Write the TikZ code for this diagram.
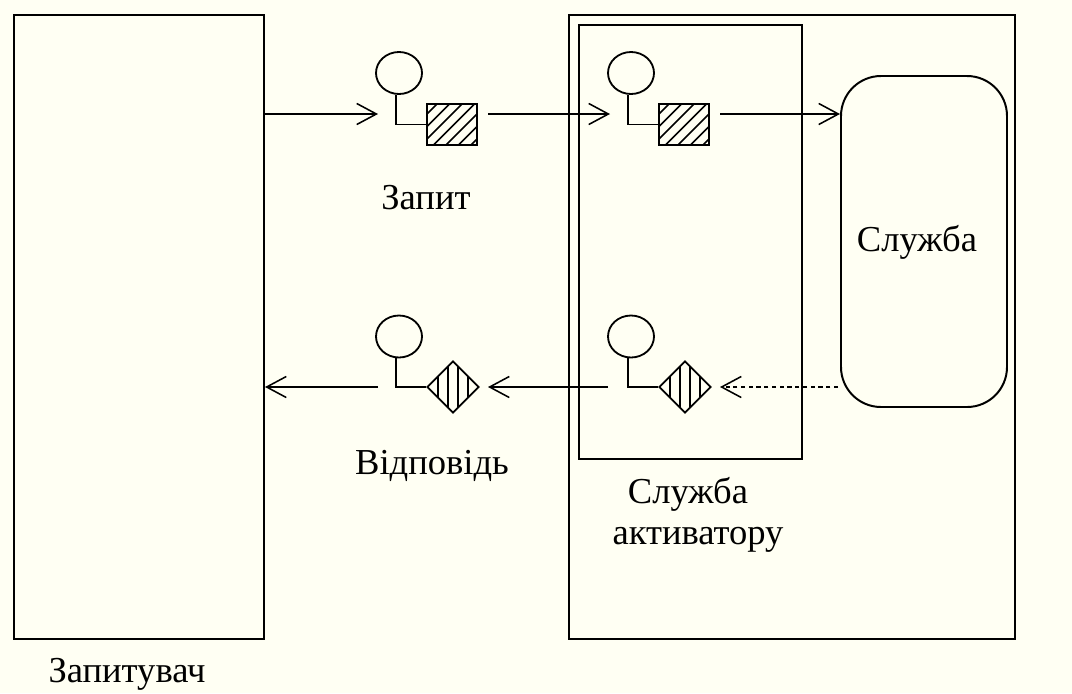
\documentclass[tikz,border=0pt]{standalone}
\usepackage{fontspec}
\setmainfont{Liberation Serif}
\usepackage{xcolor}
\usetikzlibrary{shapes.geometric, arrows.meta}
\definecolor{paper}{HTML}{FFFFF3}
\def\px{0.025cm}
\tikzstyle{arrow} = [line width=1.2pt,-{Straight Barb[length=14pt,width=15pt,line width=1.1pt]}]
\tikzstyle{frame} = [draw,line width=1.4pt,inner sep=0pt,anchor=north west]
\tikzstyle{head} = [draw,line width=1.3pt,ellipse,inner sep=0pt,minimum width=46*\px,minimum height=42*\px]
\tikzstyle{hatchbox} = [draw,line width=1.4pt,inner sep=0pt,minimum width=50*\px,minimum height=41*\px,
    path picture={\foreach \dx in {-48,-35.5,...,40} \draw[line width=1.2pt] (path picture bounding box.center) ++(\dx-30,30) -- ++(60,-60);}]
\tikzstyle{stripebox} = [draw,line width=1.3pt,diamond,inner sep=0pt,minimum width=52*\px,minimum height=52*\px,
    path picture={\foreach \dx in {-15,-5,5,15} \draw[line width=1.1pt] (path picture bounding box.center) ++(\dx,-30) -- ++(0,60);}]
\tikzstyle{caption} = [inner sep=0pt,font=\fontsize{26}{30}\selectfont]
\begin{document}
\begin{tikzpicture}[x=0.025cm,y=-0.025cm]
    \fill[paper] (0,0) rectangle (1072,693);
    \useasboundingbox (0,0) rectangle (1072,693);
    % frames
    \node[frame,minimum width=250*\px,minimum height=624*\px] (requester) at (12.8,13.7) {};
    \node[frame,minimum width=446*\px,minimum height=624*\px] (system) at (567.8,13.7) {};
    \node[frame,minimum width=223*\px,minimum height=434*\px] (activator) at (577.8,23.7) {};
    \node[draw,line width=1.4pt,rounded corners=40*\px,inner sep=0pt,minimum width=166*\px,minimum height=331*\px] (service) at (924,241.5) {};
    % request side
    \node[head] (reqhead) at (399,73) {};
    \node[hatchbox] (reqbox) at (452,124.5) {};
    \node[head] (acthead) at (631,73) {};
    \node[hatchbox] (actbox) at (684,124.5) {};
    \draw[line width=1.3pt] (reqhead.263) |- (reqbox.west);
    \draw[line width=1.3pt] (acthead.263) |- (actbox.west);
    % reply side
    \node[head] (rephead) at (399,336.5) {};
    \node[stripebox] (repbox) at (453,387) {};
    \node[head] (anshead) at (631,336.5) {};
    \node[stripebox] (ansbox) at (685,387) {};
    \draw[line width=1.3pt] (rephead.263) |- (repbox.west);
    \draw[line width=1.3pt] (anshead.263) |- (ansbox.west);
    % free ends
    \coordinate (a) at (265,114);
    \coordinate (b) at (378,114);
    \coordinate (c) at (488,114);
    \coordinate (d) at (610,114);
    \coordinate (e) at (720,114);
    \coordinate (f) at (608,387);
    \coordinate (g) at (488,387);
    \coordinate (h) at (378,387);
    \coordinate (i) at (265,387);
    \coordinate (j) at (838,387);
    \coordinate (k) at (720,387);
    \draw[arrow] (a)--(b);
    \draw[arrow] (c)--(d);
    \draw[arrow] (e)--(e-|service.west);
    \draw[arrow] (f)--(g);
    \draw[arrow] (h)--(i);
    \draw[arrow,dash pattern=on 3pt off 2.5pt] (j)--(k);
    % labels
    \node[caption] (reqlabel) at (426,198) {Запит};
    \node[caption] (servlabel) at (917,242) {Служба};
    \node[caption] (replabel) at (432,466) {Відповідь};
    \node[caption] (actlabel) at (688,494) {Служба};
    \node[caption] (actlabelb) at (698,540) {активатору};
    \node[caption] (requesterlabel) at (127,674) {Запитувач};
  \end{tikzpicture}
\end{document}
